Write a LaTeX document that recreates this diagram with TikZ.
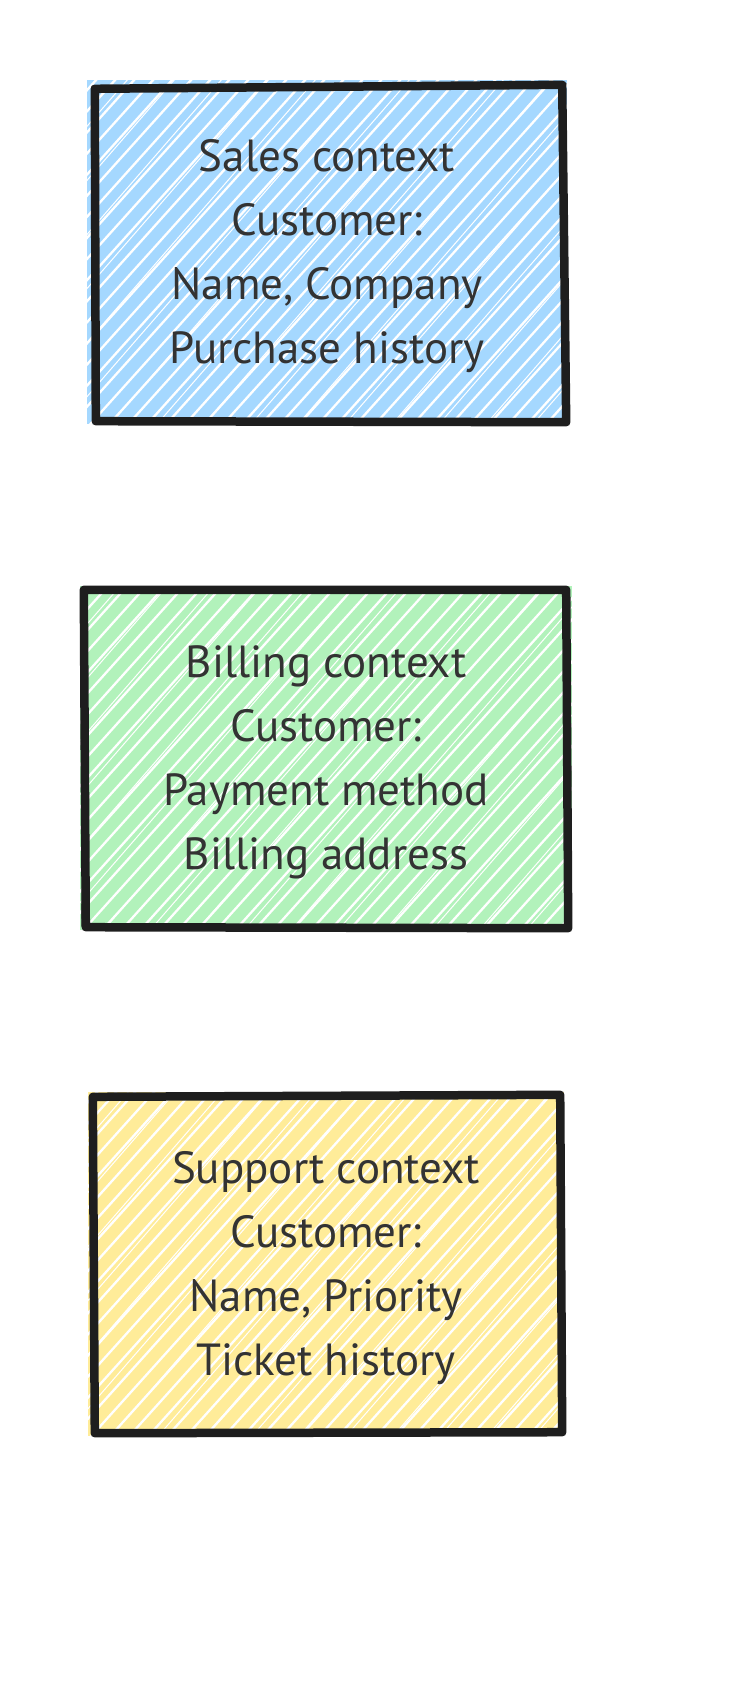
\documentclass[tikz,border=0pt]{standalone}
\usepackage{fontspec}
\setmainfont{PT Sans}
\usetikzlibrary{calc}
\definecolor{salesfill}{HTML}{A5D8FF}
\definecolor{billfill}{HTML}{B2F2BB}
\definecolor{suppfill}{HTML}{FFEC99}
\definecolor{ink}{HTML}{1E1E1E}
\definecolor{txt}{HTML}{333333}
\newcommand{\firststrut}{\rule{0pt}{41pt}}
\tikzset{
  ctxbox/.style={rectangle, draw=none, inner sep=0pt, align=center, text=txt,
    font=\fontsize{45}{64}\selectfont,
    path picture={
      \foreach \k in {0,...,60}{
        \draw[white, line width=2.3pt]
          ($(path picture bounding box.south west)+(\k*19-420,6)$) -- ++(48:800pt);
      }
      \foreach \k in {0,...,24}{
        \draw[white, line width=1pt]
          ($(path picture bounding box.south west)+(\k*47-405,6)$) -- ++(49:800pt);
      }
    }},
  edge/.style={ink, line width=8.5pt, line cap=round, line join=round},
  edgethin/.style={ink, line width=3pt, line cap=round}
}
\begin{document}
\begin{tikzpicture}[x=1pt,y=-1pt]
\useasboundingbox (0,0) rectangle (732,1704);
% Sales
\node[ctxbox, fill=salesfill, minimum width=480pt, minimum height=344pt] (sales) at (327,252)
  {\firststrut Sales context\\Customer:\\Name, Company\\Purchase history};
\draw[edge] ($(sales.north west)+(8,9)$) -- ($(sales.north east)+(-5,5)$)
  -- ($(sales.south east)+(-1,-2)$) -- ($(sales.south west)+(9,-3)$) -- cycle;
\draw[edgethin] ($(sales.north west)+(6,7)$) -- ($(sales.north east)+(-2,4)$);
\draw[edgethin] ($(sales.north west)+(10,8)$) -- ($(sales.south west)+(7,-4)$);
% Billing
\node[ctxbox, fill=billfill, minimum width=492pt, minimum height=344pt] (billing) at (326,758)
  {\firststrut Billing context\\Customer:\\Payment method\\Billing address};
\draw[edge] ($(billing.north west)+(4,4)$) -- ($(billing.north east)+(-6,4)$)
  -- ($(billing.south east)+(-4,-2)$) -- ($(billing.south west)+(6,-3)$) -- cycle;
\draw[edgethin] ($(billing.north west)+(6,6)$) -- ($(billing.south west)+(3,-4)$);
\draw[edgethin] ($(billing.north east)+(-7,6)$) -- ($(billing.south east)+(-3,-3)$);
% Support
\node[ctxbox, fill=suppfill, minimum width=476pt, minimum height=344pt] (support) at (326,1264)
  {\firststrut Support context\\Customer:\\Name, Priority\\Ticket history};
\draw[edge] ($(support.north west)+(5,5)$) -- ($(support.north east)+(-4,3)$)
  -- ($(support.south east)+(-2,-4)$) -- ($(support.south west)+(7,-3)$) -- cycle;
\draw[edgethin] ($(support.north west)+(3,8)$) -- ($(support.south west)+(5,-6)$);
\draw[edgethin] ($(support.south west)+(8,-1)$) -- ($(support.south east)+(-3,-2)$);
\end{tikzpicture}
\end{document}
